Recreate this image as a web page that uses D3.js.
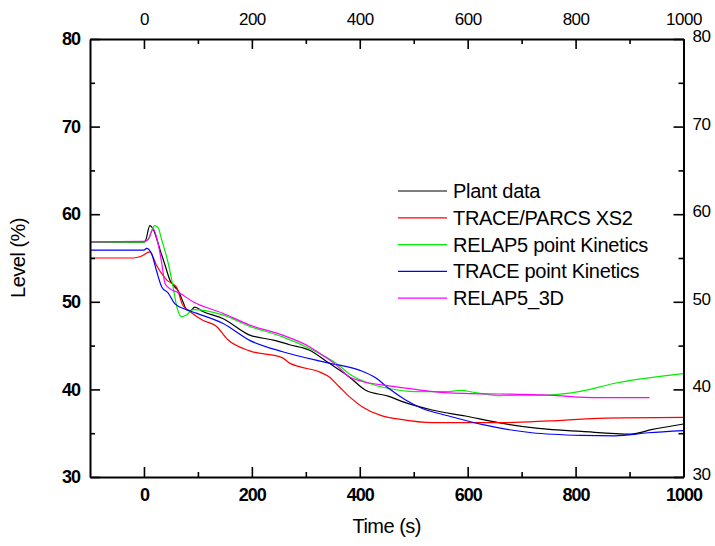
<!DOCTYPE html>
<html><head><meta charset="utf-8">
<script src="https://cdn.jsdelivr.net/npm/d3@7"></script>
<style>
body{margin:0;background:#fff;}
svg{display:block;font-family:"Liberation Sans",Arial,sans-serif;}
</style></head>
<body><svg id="chart" width="715" height="546"></svg>
<script>
const seriesNames = ["Plant data","TRACE/PARCS XS2","RELAP5 point Kinetics","TRACE point Kinetics","RELAP5_3D"];
const seriesColors = ["#000000","#ff0000","#00ee00","#0000ff","#ff00ff"];
const plantData = [[-100,56.8],[0,56.8],[3,57.0],[11,58.7],[17,58.3],[30,55.9],[39,54.2],[48,52.5],[57,51.7],[63,51.3],[73,49.9],[79,49.1],[86,49.0],[94,49.4],[109,48.9],[146,48.1],[196,46.2],[242,45.6],[270,45.1],[306,44.5],[343,43.0],[380,41.45],[411,39.9],[454,39.2],[479,38.6],[534,37.65],[596,36.96],[657,36.2],[731,35.55],[811,35.2],[903,34.9],[940,35.4],[1000,36.05]];
const traceParcs = [[-100,55.0],[-20,55.0],[-5,55.2],[11,55.7],[23,54.2],[42,52.5],[60,51.7],[72,49.6],[85,48.9],[109,47.9],[134,47.2],[155,45.7],[196,44.4],[257,43.6],[270,43.0],[288,42.6],[325,42.0],[343,41.45],[362,40.3],[380,39.2],[405,38.0],[440,37.0],[473,36.6],[534,36.2],[657,36.2],[750,36.4],[842,36.7],[1000,36.8]];
const relap5Point = [[-100,56.8],[0,56.8],[8,57.2],[20,58.7],[26,58.5],[33,57.05],[45,54.4],[54,51.7],[61,49.4],[70,48.3],[79,48.5],[91,49.1],[146,48.5],[196,47.2],[257,46.0],[306,44.7],[331,43.9],[356,43.0],[380,41.8],[417,40.7],[454,40.1],[503,39.75],[565,39.75],[589,39.9],[608,39.7],[657,39.3],[750,39.35],[811,39.8],[873,40.7],[1000,41.8]];
const tracePoint = [[-100,55.9],[0,55.9],[5,56.1],[14,55.5],[23,53.6],[33,51.7],[45,51.0],[57,49.8],[79,49.1],[97,48.7],[146,47.55],[196,45.6],[257,44.3],[343,43.0],[399,42.2],[430,41.3],[454,40.1],[485,38.8],[515,37.85],[565,36.96],[626,36.0],[719,35.05],[811,34.75],[873,34.7],[934,35.05],[1000,35.3]];
const relap53D = [[-100,56.85],[0,56.9],[8,57.1],[17,58.3],[26,56.7],[33,54.4],[39,52.1],[48,51.5],[66,51.0],[91,50.0],[146,48.7],[196,47.35],[257,46.2],[306,44.9],[331,43.9],[356,42.8],[380,41.45],[405,40.9],[454,40.4],[503,40.0],[565,39.6],[750,39.35],[842,39.05],[937,39.05]];
const xMajorTicks = [0,200,400,600,800,1000];
const xMinorTicks = [100,300,500,700,900];
const yMajorTicks = [30,40,50,60,70,80];
const yMinorTicks = [35,45,55,65,75];
const xTitle = "Time (s)";
const yTitle = "Level (%)";

const allSeries = [plantData, traceParcs, relap5Point, tracePoint, relap53D];
const svg = d3.select("#chart");
const L = 90, R = 683.5, T = 39, B = 477;
const x = d3.scaleLinear().domain([-100,1000]).range([L,R]);
const y = d3.scaleLinear().domain([30,80]).range([B,T]);

const line = d3.line().x(d=>x(d[0])).y(d=>y(d[1])).curve(d3.curveMonotoneX);
const plot = svg.append("g");
allSeries.forEach((s,i)=>{
  plot.append("path").datum(s).attr("d",line).attr("fill","none")
    .attr("stroke",seriesColors[i]).attr("stroke-width",1.2);
});

function styleAxis(g, bold, size){
  g.select(".domain").attr("stroke","#000").attr("stroke-width",2);
  g.selectAll(".tick line").attr("stroke","#000").attr("stroke-width",1.6);
  g.selectAll("text").attr("font-family","'Liberation Sans',Arial,sans-serif")
    .attr("font-size",size).attr("font-weight",bold?"bold":"normal")
    .attr("letter-spacing",bold?"-1px":"-0.5px").attr("fill","#000");
}
// bottom
const gb = svg.append("g").attr("transform",`translate(0,${B})`)
  .call(d3.axisBottom(x).tickValues(xMajorTicks).tickSize(-10).tickSizeOuter(0).tickPadding(8).tickFormat(d3.format("d")));
styleAxis(gb,true,18);
gb.selectAll("text").attr("dy","0.9em");
svg.append("g").attr("transform",`translate(0,${B})`)
  .call(d3.axisBottom(x).tickValues(xMinorTicks).tickSize(-5).tickSizeOuter(0).tickFormat(""))
  .call(g=>{g.select(".domain").remove();g.selectAll(".tick line").attr("stroke-width",1.6);});
// top
const gt = svg.append("g").attr("transform",`translate(0,${T})`)
  .call(d3.axisTop(x).tickValues(xMajorTicks).tickSize(-10).tickSizeOuter(0).tickPadding(6).tickFormat(d3.format("d")));
styleAxis(gt,false,17);
gt.selectAll("text").attr("y",-14).attr("dy","0");
svg.append("g").attr("transform",`translate(0,${T})`)
  .call(d3.axisTop(x).tickValues(xMinorTicks).tickSize(-5).tickSizeOuter(0).tickFormat(""))
  .call(g=>{g.select(".domain").remove();g.selectAll(".tick line").attr("stroke-width",1.6);});
// left
const gl = svg.append("g").attr("transform",`translate(${L},0)`)
  .call(d3.axisLeft(y).tickValues(yMajorTicks).tickSize(-10).tickSizeOuter(0).tickPadding(10).tickFormat(d3.format("d")));
styleAxis(gl,true,18);
svg.append("g").attr("transform",`translate(${L},0)`)
  .call(d3.axisLeft(y).tickValues(yMinorTicks).tickSize(-5).tickSizeOuter(0).tickFormat(""))
  .call(g=>{g.select(".domain").remove();g.selectAll(".tick line").attr("stroke-width",1.6);});
// right
const gr = svg.append("g").attr("transform",`translate(${R},0)`)
  .call(d3.axisRight(y).tickValues(yMajorTicks).tickSize(-10).tickSizeOuter(0).tickPadding(9).tickFormat(d3.format("d")));
styleAxis(gr,false,17);
gr.selectAll("text").attr("y",-3);
svg.append("g").attr("transform",`translate(${R},0)`)
  .call(d3.axisRight(y).tickValues(yMinorTicks).tickSize(-5).tickSizeOuter(0).tickFormat(""))
  .call(g=>{g.select(".domain").remove();g.selectAll(".tick line").attr("stroke-width",1.6);});

// titles
svg.append("text").attr("x",(L+R)/2).attr("y",533).attr("text-anchor","middle")
  .attr("font-size",20).attr("letter-spacing","-0.5px").text(xTitle);
svg.append("text").attr("transform",`translate(25,${(T+B)/2}) rotate(-90)`).attr("text-anchor","middle")
  .attr("font-size",20).attr("letter-spacing","-0.5px").text(yTitle);

// legend
const lg = svg.append("g");
seriesNames.forEach((n,i)=>{
  const yy = 191 + i*26.8;
  lg.append("line").attr("x1",398).attr("x2",447).attr("y1",yy).attr("y2",yy)
    .attr("stroke",seriesColors[i]).attr("stroke-width",1.2);
  lg.append("text").attr("x",453).attr("y",yy).attr("dy","0.35em")
    .attr("font-size",20).attr("letter-spacing","-0.3px").text(n);
});
</script></body></html>
